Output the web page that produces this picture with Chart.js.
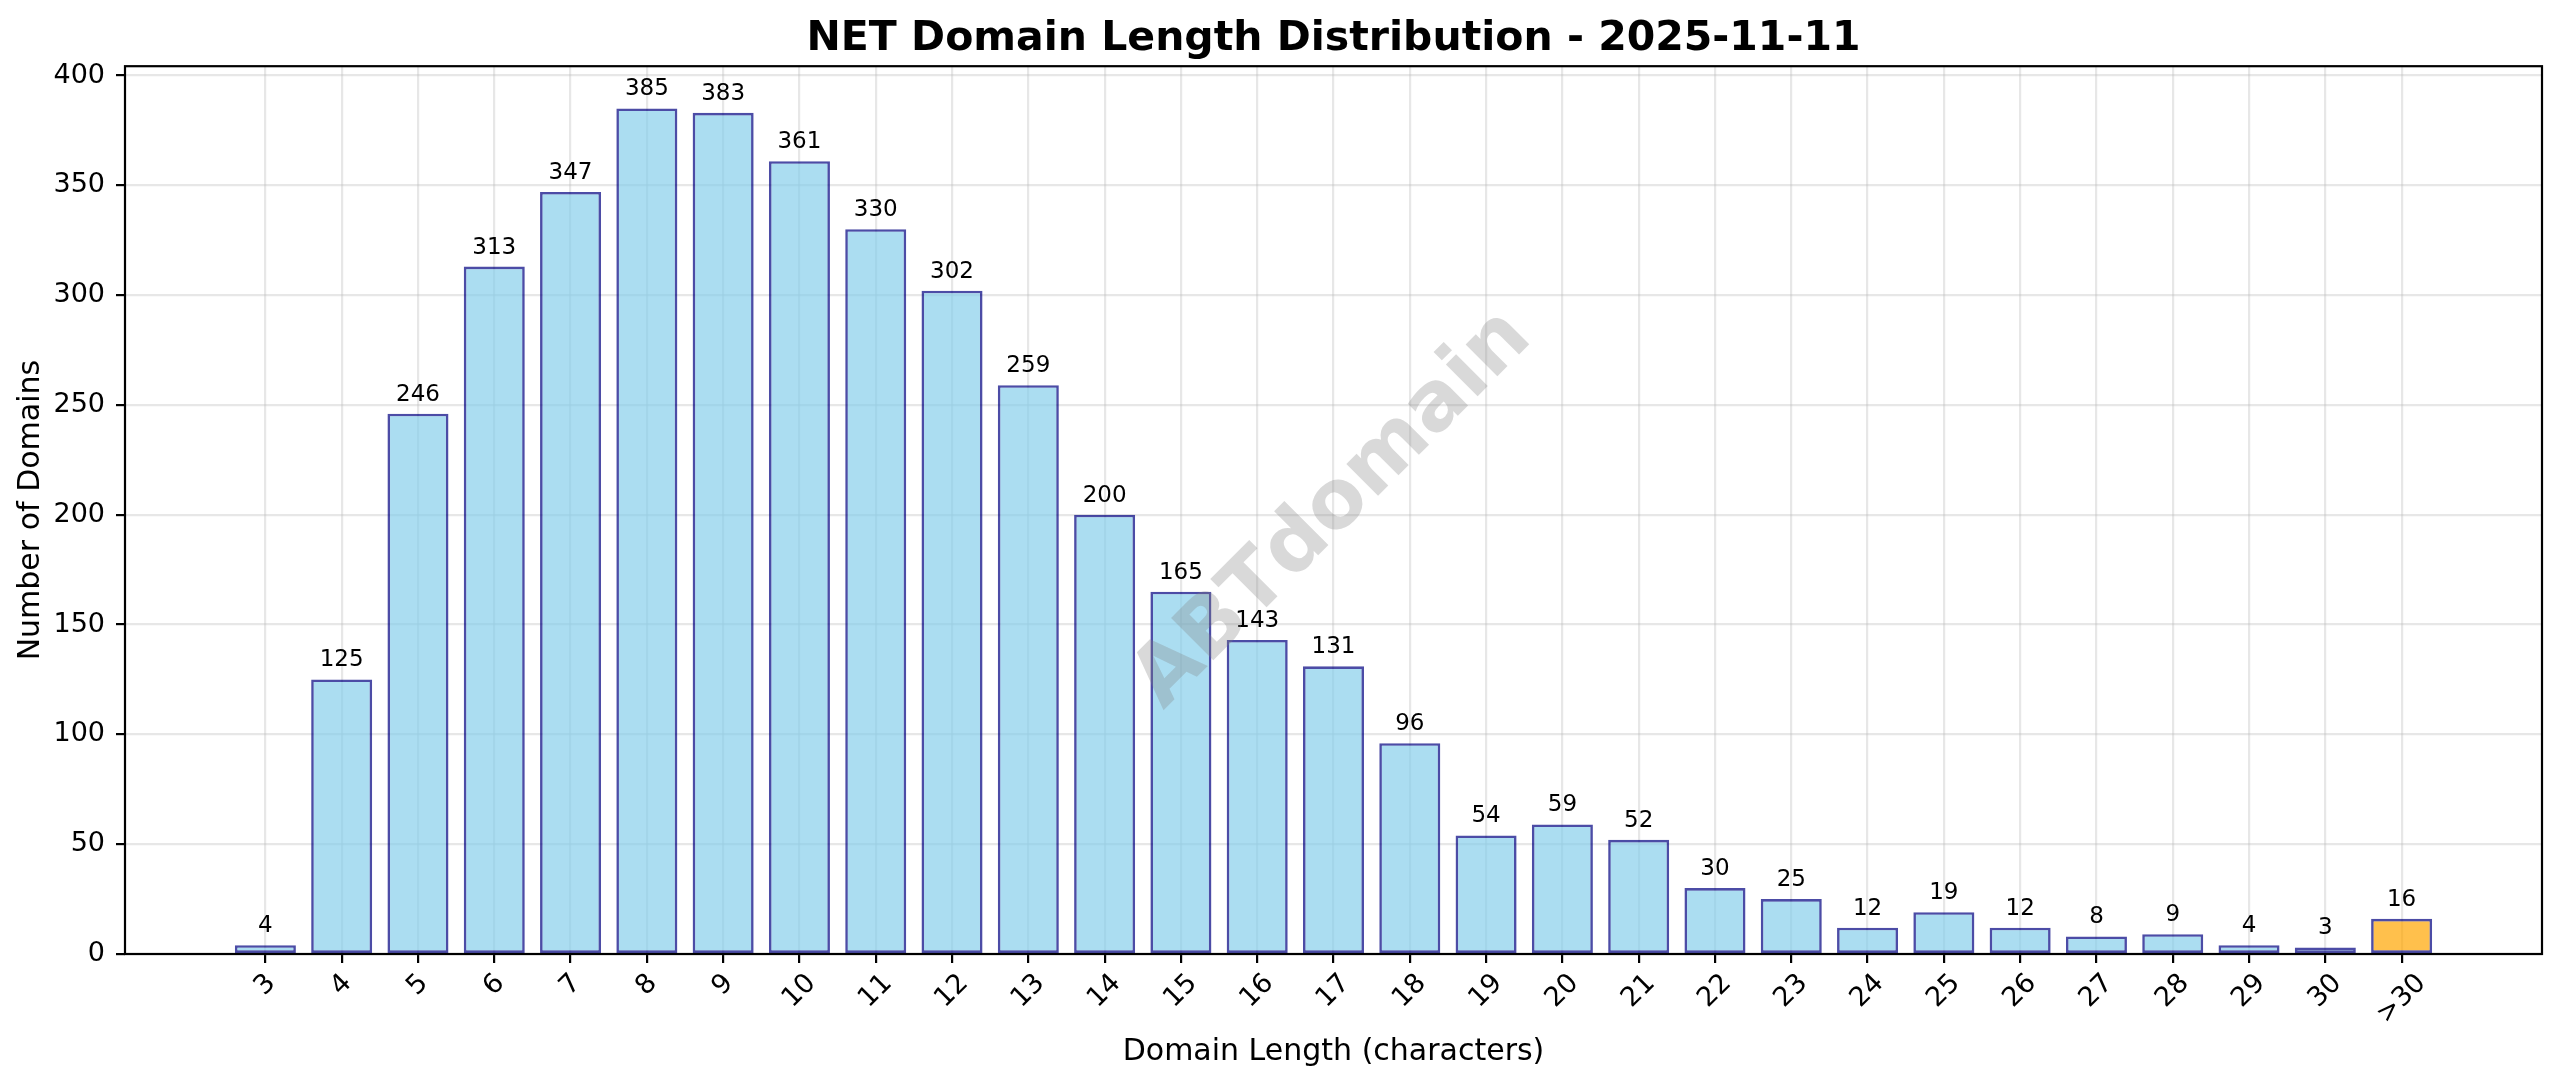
<!DOCTYPE html>
<html>
<head>
<meta charset="utf-8">
<title>NET Domain Length Distribution</title>
<script src="https://cdn.jsdelivr.net/npm/chart.js@4.4.1/dist/chart.umd.min.js"></script>
<style>
    html, body { margin: 0; padding: 0; background: #fff; }
    #wrap { width: 2560px; height: 1087px; position: relative; }
</style>
</head>
<body>
<div id="wrap"><canvas id="lengthChart"></canvas></div>
<script>
const lengthLabels = ['3', '4', '5', '6', '7', '8', '9', '10', '11', '12', '13', '14', '15', '16', '17',
    '18', '19', '20', '21', '22', '23', '24', '25', '26', '27', '28', '29', '30', '>30'];
const domainCounts = [4, 125, 246, 313, 347, 385, 383, 361, 330, 302, 259, 200, 165, 143, 131,
    96, 54, 59, 52, 30, 25, 12, 19, 12, 8, 9, 4, 3, 16];
const yTickStep = 50;

const FONT = "'DejaVu Sans', sans-serif";
Chart.defaults.font.family = FONT;
Chart.defaults.color = '#000';

// matplotlib-like limits: 5% margin around the bar extents
const span = (lengthLabels.length - 1) + 0.8;
const xMin = -0.4 - 0.05 * span;
const xMax = lengthLabels.length - 1 + 0.4 + 0.05 * span;
const yMax = Math.max(...domainCounts) * 1.05;

const gridColor = 'rgba(176,176,176,0.3)';

const extras = {
    id: 'extras',
    afterDatasetsDraw(chart) {
        const { ctx, chartArea: a } = chart;
        // value labels above bars
        ctx.save();
        ctx.font = '23px ' + FONT;
        ctx.fillStyle = '#000';
        ctx.textAlign = 'center';
        ctx.textBaseline = 'alphabetic';
        chart.getDatasetMeta(0).data.forEach((bar, i) => {
            ctx.fillText(String(domainCounts[i]), bar.x, bar.y - 13);
        });
        ctx.restore();

        // watermark
        ctx.save();
        ctx.translate((a.left + a.right) / 2, (a.top + a.bottom) / 2);
        ctx.rotate(-Math.PI / 4);
        ctx.font = 'bold 82px ' + FONT;
        ctx.fillStyle = 'rgba(128,128,128,0.3)';
        ctx.textAlign = 'center';
        ctx.textBaseline = 'middle';
        ctx.fillText('ABTdomain', 0, 0);
        ctx.restore();

        // axes frame
        ctx.save();
        ctx.strokeStyle = '#000';
        ctx.lineWidth = 2.2;
        ctx.strokeRect(a.left, a.top, a.right - a.left, a.bottom - a.top);
        ctx.restore();
    },
    afterDraw(chart) {
        // rotated x tick labels, centred under their ticks
        const { ctx } = chart;
        const xs = chart.scales.x;
        ctx.save();
        ctx.font = '27px ' + FONT;
        ctx.fillStyle = '#000';
        ctx.textAlign = 'center';
        ctx.textBaseline = 'middle';
        lengthLabels.forEach((lab, i) => {
            const px = xs.getPixelForValue(i);
            const w = ctx.measureText(lab).width;
            const h = 27 * 1.164;
            const cy = xs.top + 14 + 0.7071 * (w + h) / 2;
            ctx.save();
            ctx.translate(px, cy);
            ctx.rotate(-Math.PI / 4);
            ctx.fillText(lab, 0, 0);
            ctx.restore();
        });
        ctx.restore();
    }
};

const ctx = document.getElementById('lengthChart').getContext('2d');
const lengthChart = new Chart(ctx, {
    type: 'bar',
    data: {
        datasets: [{
            data: domainCounts.map((v, i) => ({ x: i, y: v })),
            backgroundColor: lengthLabels.map(l => l === '>30' ? 'rgba(255,165,0,0.7)' : 'rgba(135,206,235,0.7)'),
            borderColor: 'rgba(0,0,128,0.7)',
            borderWidth: 2.6,
            borderSkipped: false,
            barPercentage: 0.8,
            categoryPercentage: 1.0
        }]
    },
    options: {
        responsive: true,
        maintainAspectRatio: false,
        animation: false,
        devicePixelRatio: 1,
        layout: { padding: { left: 0, right: 18, top: 0, bottom: 0 } },
        plugins: {
            legend: { display: false },
            tooltip: { enabled: false },
            title: {
                display: true,
                fullSize: false,
                text: 'NET Domain Length Distribution - 2025-11-11',
                color: '#000',
                font: { size: 41, weight: 'bold', family: FONT },
                padding: { top: 14.5, bottom: 2.5 }
            }
        },
        scales: {
            x: {
                type: 'linear',
                min: xMin,
                max: xMax,
                offset: false,
                afterBuildTicks: (scale) => { scale.ticks = lengthLabels.map((_, i) => ({ value: i })); },
                afterFit: (scale) => { scale.height = 133; },
                ticks: { display: false, autoSkip: false },
                grid: { offset: false, color: gridColor, lineWidth: 2.2, tickColor: '#000', tickLength: 9, tickWidth: 2.2 },
                border: { display: false },
                title: {
                    display: true,
                    text: 'Domain Length (characters)',
                    color: '#000',
                    font: { size: 30, family: FONT },
                    padding: { top: 0, bottom: 17 }
                }
            },
            y: {
                min: 0,
                max: yMax,
                afterFit: (scale) => { scale.width = 125; },
                ticks: { stepSize: yTickStep, includeBounds: false, font: { size: 27 }, color: '#000', padding: 11 },
                grid: { color: gridColor, lineWidth: 2.2, tickColor: '#000', tickLength: 9, tickWidth: 2.2 },
                border: { display: false },
                title: {
                    display: true,
                    text: 'Number of Domains',
                    color: '#000',
                    font: { size: 30, family: FONT },
                    padding: { top: 13, bottom: 0 }
                }
            }
        }
    },
    plugins: [extras]
});
</script>
</body>
</html>
